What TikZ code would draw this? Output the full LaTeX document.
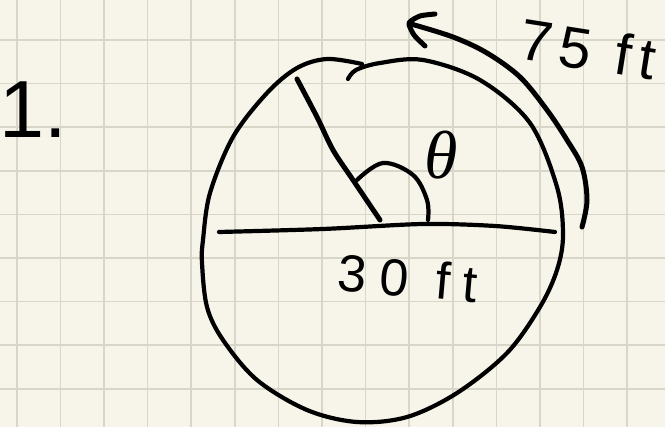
\documentclass[tikz,border=0pt]{standalone}
\usepackage{fontspec}
\setmainfont{Liberation Sans}
\newfontfamily\grk{Liberation Serif}
\definecolor{paper}{RGB}{247,245,234}
\definecolor{gridc}{RGB}{216,213,201}
\begin{document}
\begin{tikzpicture}[x=1pt,y=-1pt,
  ink/.style={line width=4.2pt, line cap=round, line join=round, black},
  thick ink/.style={ink, line width=5pt},
  gridline/.style={gridc, line width=1.6pt},
  txt/.style={inner sep=0pt, black}]
\useasboundingbox (0,0) rectangle (665,427);
\fill[paper] (0,0) rectangle (665,427);
% grid paper
\foreach \gx in {16.7,60.3,103.9,147.5,191.1,234.7,278.3,321.9,365.5,409.1,452.7,496.3,539.9,583.5,627.1}
  \draw[gridline] (\gx,0) -- (\gx,427);
\foreach \gy in {40,83.6,127.2,170.8,214.4,258,301.6,345.2,388.8}
  \draw[gridline] (0,\gy) -- (665,\gy);
% problem number
\node[txt, anchor=base west, font=\fontsize{81}{81}\selectfont] (one) at (-1,138) {1.};
% the circle (hand drawn, overlapping at the top)
\draw[ink] plot[smooth, tension=0.55] coordinates {
  (348,79) (356,70) (380,63) (423,60) (480,80) (530,123) (557,187) (563,235)
  (557,270) (540,307) (507,353) (457,393) (407,417) (357,422) (307,410)
  (257,380) (223,340) (207,307) (202,263) (203,240) (210,193) (233,137)
  (267,93) (297,68) (327,59) (362,64)};
% diameter
\coordinate (dL) at (219,232);
\coordinate (dR) at (555,232);
\draw[ink] plot[smooth, tension=0.5] coordinates {(dL) (323,229) (423,224) (495,226) (dR)};
% radius to the rim
\coordinate (rA) at (297,79);
\coordinate (rO) at (380,220);
\draw[thick ink] plot[smooth, tension=0.5] coordinates {(rA) (317,117) (333,150) (353,180) (rO)};
% angle arc
\coordinate (aS) at (357,180);
\coordinate (aE) at (428,220);
\draw[ink] plot[smooth, tension=0.6] coordinates {(aS) (383,163) (413,175) (427,200) (aE)};
\node[txt, font=\grk\itshape\fontsize{68}{68}\selectfont] (theta) at (441,155) {θ};
% arc-length arrow
\coordinate (bS) at (582,227);
\coordinate (bE) at (411,24);
\draw[thick ink] plot[smooth, tension=0.55] coordinates {(bS) (587,200) (582,167) (567,140) (547,110) (520,77) (487,53) (453,37) (bE)};
\draw[thick ink] plot[smooth, tension=0.4] coordinates {(435,14) (420,16) (409,23) (414,35) (425,46)};
% labels
\node[txt, rotate=-9, font=\fontsize{58}{58}\selectfont\addfontfeature{LetterSpace=14}] (ft75) at (588,49) {75 ft};
\node[txt, rotate=-5, font=\fontsize{52}{52}\selectfont\addfontfeature{LetterSpace=25}] (ft30) at (408,278) {30 ft};
\end{tikzpicture}
\end{document}
